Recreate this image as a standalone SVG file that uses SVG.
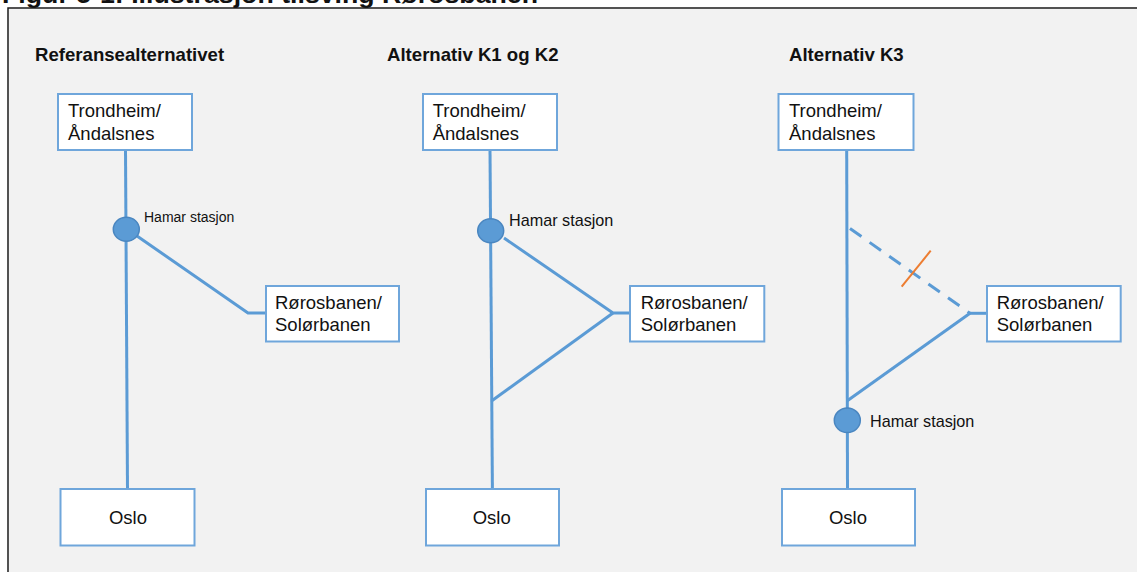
<svg xmlns="http://www.w3.org/2000/svg" width="1137" height="572" viewBox="0 0 1137 572">
<style>
.bg{fill:none;stroke:#1a1a1a;stroke-width:1.5}
.box{fill:#ffffff;stroke:#6fa6db;stroke-width:2}
.ln{fill:none;stroke:#5b9bd5;stroke-width:3;stroke-linejoin:round}
.dash{fill:none;stroke:#5b9bd5;stroke-width:3;stroke-dasharray:14 10}
.cut{fill:none;stroke:#ed7d31;stroke-width:2}
.st{fill:#5b9bd5;stroke:#4a86c0;stroke-width:1.5}
text{font-family:"Liberation Sans",Arial,sans-serif;fill:#111111}
.t{font-size:18.5px}
.h{font-size:18.6px;font-weight:bold}
.cap{font-size:26px;font-weight:bold}
.s1{font-size:14px}
.s2{font-size:16.2px}
</style>
<rect x="0" y="0" width="1137" height="572" fill="#ffffff"/>
<text class="cap" x="2" y="3" textLength="536" lengthAdjust="spacingAndGlyphs">Figur 5-1: Illustrasjon tilsving Rørosbanen</text>
<rect x="8.75" y="8.75" width="1130" height="570" fill="#f2f2f2"/>
<path class="bg" d="M8,590 L8,8 L1150,8"/>

<text class="h" x="35" y="60.5">Referansealternativet</text>
<text class="h" x="387" y="60.5">Alternativ K1 og K2</text>
<text class="h" x="789" y="60.5">Alternativ K3</text>

<g id="connectors">
  <path class="ln" d="M125.5,150 L127.5,489"/>
  <path class="ln" d="M137,236 L248,313 L266,313"/>
  <path class="ln" d="M490,150 L492.4,489"/>
  <path class="ln" d="M504,238 L613,313 L630,313"/>
  <path class="ln" d="M613,313 L491.5,401"/>
  <path class="ln" d="M846.7,150 L847.5,489"/>
  <path class="dash" d="M850,228.5 L970,313.3"/>
  <path class="ln" d="M970,313.3 L987,313.3"/>
  <path class="ln" d="M970,313.3 L847.3,400.7"/>
  <path class="cut" d="M901.7,286.7 L930.7,250.7"/>
</g>

<g id="ref-trondheim">
  <rect class="box" x="58" y="94" width="134" height="56"/>
  <text class="t" x="68" y="117">Trondheim/</text>
  <text class="t" x="68" y="139.5">Åndalsnes</text>
</g>
<g id="ref-hamar">
  <ellipse class="st" cx="126.3" cy="229.3" rx="13" ry="12"/>
  <text class="s1" x="144" y="222">Hamar stasjon</text>
</g>
<g id="ref-roros">
  <rect class="box" x="266" y="286" width="133" height="55.5"/>
  <text class="t" x="275" y="309.3">Rørosbanen/</text>
  <text class="t" x="275" y="331">Solørbanen</text>
</g>
<g id="ref-oslo">
  <rect class="box" x="60.5" y="489" width="134" height="56.5"/>
  <text class="t" x="128" y="524" text-anchor="middle">Oslo</text>
</g>

<g id="k12-trondheim">
  <rect class="box" x="423" y="94" width="134" height="56"/>
  <text class="t" x="432.7" y="117">Trondheim/</text>
  <text class="t" x="432.7" y="139.5">Åndalsnes</text>
</g>
<g id="k12-hamar">
  <ellipse class="st" cx="490.7" cy="230.7" rx="13" ry="12"/>
  <text class="s2" x="509" y="226">Hamar stasjon</text>
</g>
<g id="k12-roros">
  <rect class="box" x="630" y="286" width="134.3" height="55.5"/>
  <text class="t" x="640.7" y="309.3">Rørosbanen/</text>
  <text class="t" x="640.7" y="331">Solørbanen</text>
</g>
<g id="k12-oslo">
  <rect class="box" x="426" y="489" width="133" height="56.5"/>
  <text class="t" x="491.7" y="524" text-anchor="middle">Oslo</text>
</g>

<g id="k3-trondheim">
  <rect class="box" x="778.5" y="94" width="135" height="56"/>
  <text class="t" x="789" y="117">Trondheim/</text>
  <text class="t" x="789" y="139.5">Åndalsnes</text>
</g>
<g id="k3-hamar">
  <ellipse class="st" cx="847.3" cy="420.3" rx="13" ry="12.3"/>
  <text class="s2" x="870" y="426.7">Hamar stasjon</text>
</g>
<g id="k3-roros">
  <rect class="box" x="987" y="286" width="133.7" height="55.5"/>
  <text class="t" x="996.7" y="309.3">Rørosbanen/</text>
  <text class="t" x="996.7" y="331">Solørbanen</text>
</g>
<g id="k3-oslo">
  <rect class="box" x="782" y="489" width="133" height="56.5"/>
  <text class="t" x="848" y="524" text-anchor="middle">Oslo</text>
</g>
</svg>
